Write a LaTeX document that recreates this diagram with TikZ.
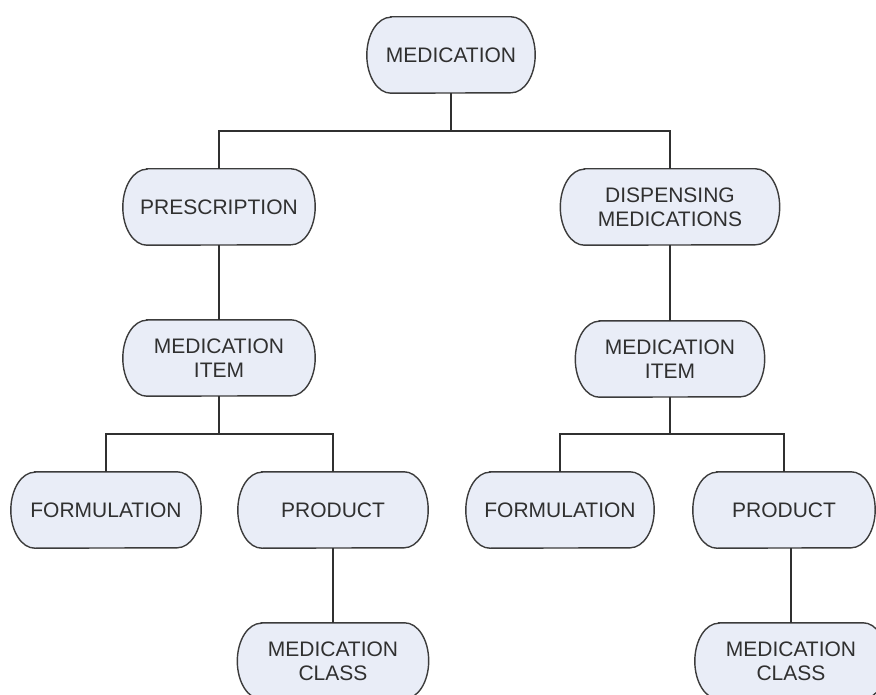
\documentclass[tikz,border=0pt]{standalone}
\usepackage{fontspec}
\setmainfont{Liberation Sans}
\usetikzlibrary{calc,backgrounds}

\definecolor{boxfill}{RGB}{233,237,247}
\definecolor{boxline}{RGB}{60,60,60}
\definecolor{linkline}{RGB}{48,48,48}
\definecolor{labeltext}{RGB}{48,48,48}

\tikzset{
  term/.style={rectangle, draw=none, inner sep=0pt, minimum height=76pt,
    minimum width=#1, align=center, text=labeltext,
    font=\fontsize{21}{24}\selectfont},
  termshape/.style={draw=boxline, fill=boxfill, line width=1.4pt},
  link/.style={draw=linkline, line width=1.5pt}
}

\begin{document}
\begin{tikzpicture}[x=1pt,y=-1pt]
  \useasboundingbox (0,0) rectangle (876,695);

  % tree nodes
  \node[term=168pt] (med)    at (451,55)  {MEDICATION};
  \node[term=192pt] (presc)  at (219,207) {PRESCRIPTION};
  \node[term=219pt] (disp)   at (670,207) {DISPENSING\\MEDICATIONS};
  \node[term=192pt] (item1)  at (219,358) {MEDICATION\\ITEM};
  \node[term=189pt] (item2)  at (670,359) {MEDICATION\\ITEM};
  \node[term=190pt] (form1)  at (106,510) {FORMULATION};
  \node[term=190pt] (prod1)  at (333,510) {PRODUCT};
  \node[term=188pt] (form2)  at (560,510) {FORMULATION};
  \node[term=182pt] (prod2)  at (784,510) {PRODUCT};
  \node[term=191pt] (class1) at (333,661) {MEDICATION\\CLASS};
  \node[term=192pt] (class2) at (791,661) {MEDICATION\\CLASS};

  % terminator outlines with half-ellipse ends, behind the labels
  \begin{scope}[on background layer]
    \clip (0,0) rectangle (876,695);
    \foreach \n in {med,presc,disp,item1,item2,form1,prod1,form2,prod2,class1,class2}{
      \draw[termshape]
        ($(\n.north west)+(24pt,0pt)$) -- ($(\n.north east)+(-24pt,0pt)$)
        arc[start angle=90,end angle=-90,x radius=24pt,y radius=38pt]
        -- ($(\n.south west)+(24pt,0pt)$)
        arc[start angle=270,end angle=90,x radius=24pt,y radius=38pt]
        -- cycle;
    }
  \end{scope}

  % bus junctions
  \coordinate (bus0) at (451,131);
  \coordinate (busL) at (219,434);
  \coordinate (busR) at (670,434);

  % connectors
  \draw[link] (med.south) -- (bus0) -| (presc.north);
  \draw[link] (bus0) -| (disp.north);
  \draw[link] (presc.south) -- (item1.north);
  \draw[link] (disp.south) -- (item2.north);
  \draw[link] (item1.south) -- (busL) -| (form1.north);
  \draw[link] (busL) -| (prod1.north);
  \draw[link] (item2.south) -- (busR) -| (form2.north);
  \draw[link] (busR) -| (prod2.north);
  \draw[link] (prod1.south) -- (class1.north);
  \draw[link] (prod2.south -| class2.north) -- (class2.north);
\end{tikzpicture}
\end{document}
